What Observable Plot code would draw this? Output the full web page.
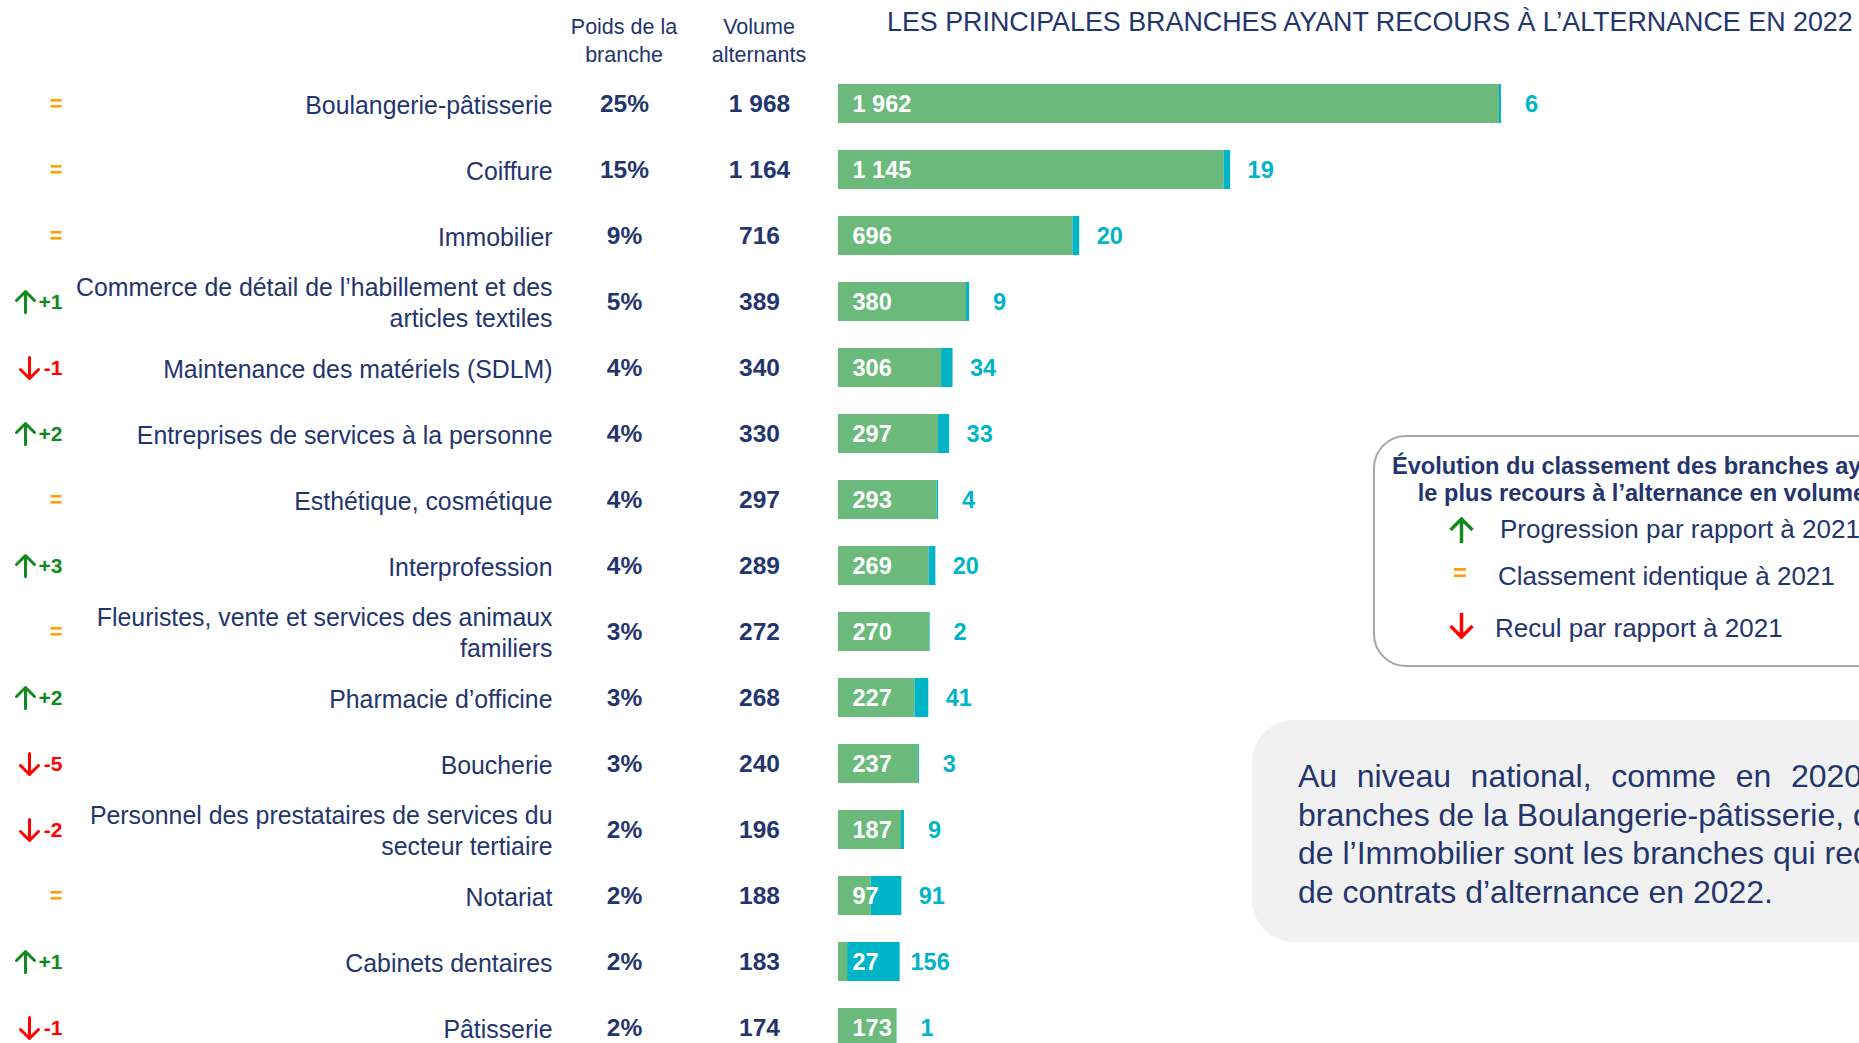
<!DOCTYPE html>
<html><head><meta charset="utf-8">
<script src="https://cdn.jsdelivr.net/npm/d3@7"></script>
<script src="https://cdn.jsdelivr.net/npm/@observablehq/plot@0.6"></script>
<style>
html,body{margin:0;padding:0;background:#fff;}
body{width:1859px;height:1043px;overflow:hidden;position:relative;font-family:"Liberation Sans",Arial,sans-serif;color:#24356E;}
#chart{position:absolute;left:0;top:0;}
.abs{position:absolute;white-space:nowrap;}
#title{left:887px;top:7px;font-size:26.85px;line-height:31px;}
.hdr{top:13px;width:160px;text-align:center;font-size:21.5px;line-height:28px;}
#legend{position:absolute;left:1373px;top:435px;width:640px;height:232px;box-sizing:border-box;border:2px solid #A6A6A6;border-radius:33px;background:#fff;}
#legtitle{left:1392px;top:453px;width:500px;text-align:center;font-weight:bold;font-size:23.6px;line-height:27px;}
.legitem{font-size:26px;line-height:30px;}
#note{position:absolute;left:1252px;top:720px;width:700px;height:222px;background:#F1F1F1;border-radius:42px;}
#notetext{left:1298px;top:757px;font-size:32px;line-height:38.7px;}
#legicons{position:absolute;left:1440px;top:510px;}
</style></head><body>
<div id="chart"></div>
<div class="abs" id="title">LES PRINCIPALES BRANCHES AYANT RECOURS À L’ALTERNANCE EN 2022</div>
<div class="abs hdr" style="left:544px">Poids de la<br>branche</div>
<div class="abs hdr" style="left:679px">Volume<br>alternants</div>

<div id="legend"></div>
<div class="abs" id="legtitle">Évolution du classement des branches ayant<br>le plus recours à l’alternance en volume</div>
<svg id="legicons" width="50" height="140" viewBox="0 0 50 140">
  <path d="M21.5 33 V9 M10.5 20 L21.5 9 L32.5 20" fill="none" stroke="#128A1E" stroke-width="3.5"/>
  <path d="M21.5 103 V127 M10.5 116 L21.5 127 L32.5 116" fill="none" stroke="#FF0000" stroke-width="3.5"/>
</svg>
<div class="abs legitem" style="left:1500px;top:514px">Progression par rapport à 2021</div>
<div class="abs legitem" style="left:1453px;top:558px;font-weight:bold;color:#FFA000;font-size:24px">=</div>
<div class="abs legitem" style="left:1498px;top:561px">Classement identique à 2021</div>
<div class="abs legitem" style="left:1495px;top:613px">Recul par rapport à 2021</div>

<div id="note"></div>
<div class="abs" id="notetext">
<div style="word-spacing:10.7px">Au niveau national, comme en 2020, les</div>
<div>branches de la Boulangerie-pâtisserie, de la Coiffure et</div>
<div>de l’Immobilier sont les branches qui recrutent le plus</div>
<div>de contrats d’alternance en 2022.</div>
</div>

<script>
// ---- Data ----
const branches = [
  "Boulangerie-pâtisserie",
  "Coiffure",
  "Immobilier",
  "Commerce de détail de l’habillement et des\narticles textiles",
  "Maintenance des matériels (SDLM)",
  "Entreprises de services à la personne",
  "Esthétique, cosmétique",
  "Interprofession",
  "Fleuristes, vente et services des animaux\nfamiliers",
  "Pharmacie d’officine",
  "Boucherie",
  "Personnel des prestataires de services du\nsecteur tertiaire",
  "Notariat",
  "Cabinets dentaires",
  "Pâtisserie"
];
const poids = ["25%", "15%", "9%", "5%", "4%", "4%", "4%", "4%", "3%", "3%", "3%", "2%", "2%", "2%", "2%"];
const volume = [1968, 1164, 716, 389, 340, 330, 297, 289, 272, 268, 240, 196, 188, 183, 174];
const apprentissage = [1962, 1145, 696, 380, 306, 297, 293, 269, 270, 227, 237, 187, 97, 27, 173];
const professionnalisation = [6, 19, 20, 9, 34, 33, 4, 20, 2, 41, 3, 9, 91, 156, 1];
const evolution = ["=", "=", "=", "+1", "-1", "+2", "=", "+3", "=", "+2", "-5", "-2", "=", "+1", "-1"];

// ---- Styles ----
const NAVY = "#24356E", GREEN = "#6BBA7C", TEAL = "#00B4C8";
const UP = "#128A1E", EQ = "#FFA000", DOWN = "#FF0000";
const FONT = "'Liberation Sans', Arial, sans-serif";

const rows = branches.map((b, i) => ({
  branche: b, poids: poids[i], volume: volume[i],
  app: apprentissage[i], pro: professionnalisation[i], evo: evolution[i],
  total: apprentissage[i] + professionnalisation[i]
}));
const fmt = n => d3.format(",")(n).replace(/,/g, "\u00A0");
const ups = rows.filter(d => d.evo[0] === "+");
const downs = rows.filter(d => d.evo[0] === "-");
const same = rows.filter(d => d.evo === "=");

const chart = Plot.plot({
  width: 1859, height: 1063,
  marginLeft: 838, marginRight: 358, marginTop: 69, marginBottom: 1,
  x: {domain: [0, d3.max(rows, d => d.total)], axis: null},
  y: {domain: branches, axis: null, paddingInner: 0.41, paddingOuter: 0.205},
  style: {fontFamily: FONT, background: "transparent", maxWidth: "none", overflow: "visible"},
  marks: [
    Plot.barX(rows, {y: "branche", x1: () => 0, x2: "app", fill: GREEN}),
    Plot.barX(rows, {y: "branche", x1: "app", x2: "total", fill: TEAL}),
    Plot.text(rows, {y: "branche", x: () => 0, text: d => fmt(d.app), dx: 14, textAnchor: "start",
      fill: "white", fontWeight: "bold", fontSize: 23.5}),
    Plot.text(rows, {y: "branche", x: "total", text: d => String(d.pro), dx: 30, textAnchor: "middle",
      fill: TEAL, fontWeight: "bold", fontSize: 23.5}),
    Plot.text(rows, {y: "branche", frameAnchor: "left", text: "branche", dx: -286, textAnchor: "end",
      fill: NAVY, fontSize: 24.85, lineHeight: 1.25}),
    Plot.text(rows, {y: "branche", frameAnchor: "left", text: "poids", dx: -214, textAnchor: "middle",
      fill: NAVY, fontWeight: "bold", fontSize: 24.5}),
    Plot.text(rows, {y: "branche", frameAnchor: "left", text: d => fmt(d.volume), dx: -79, textAnchor: "middle",
      fill: NAVY, fontWeight: "bold", fontSize: 24.5}),
    // rank evolution column
    Plot.vector(ups, {y: "branche", frameAnchor: "left", dx: 25 - 838, length: 21, rotate: 0, r: 7.5,
      anchor: "middle", shape: "arrow", stroke: UP, strokeWidth: 3}),
    Plot.vector(downs, {y: "branche", frameAnchor: "left", dx: 29 - 838, length: 21, rotate: 180, r: 7.5,
      anchor: "middle", shape: "arrow", stroke: DOWN, strokeWidth: 3}),
    Plot.text(ups, {y: "branche", frameAnchor: "left", text: "evo", dx: 62 - 838, textAnchor: "end",
      fill: UP, fontWeight: "bold", fontSize: 21}),
    Plot.text(downs, {y: "branche", frameAnchor: "left", text: "evo", dx: 62 - 838, textAnchor: "end",
      fill: DOWN, fontWeight: "bold", fontSize: 21}),
    Plot.text(same, {y: "branche", frameAnchor: "left", text: "evo", dx: 62 - 838, textAnchor: "end",
      fill: EQ, fontWeight: "bold", fontSize: 22})
  ]
});
document.getElementById("chart").appendChild(chart);
</script>
</body></html>
